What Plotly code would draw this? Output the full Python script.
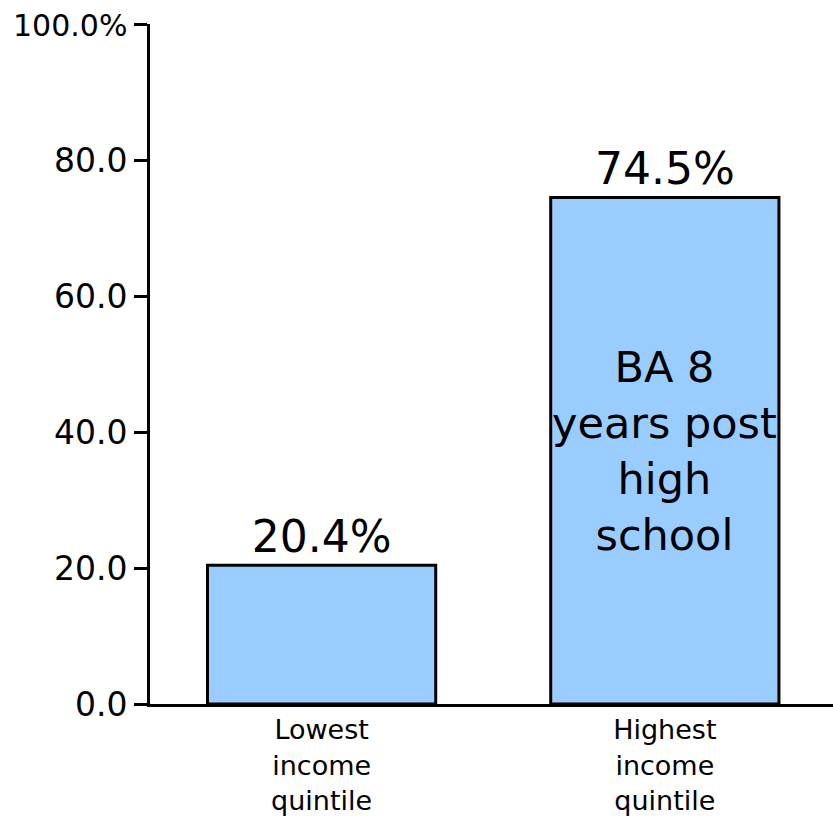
import plotly.graph_objects as go

# Share of students earning a BA within 8 years of high school, by income quintile
categories = ["Lowest<br>income<br>quintile", "Highest<br>income<br>quintile"]
ba_rate = [20.4, 74.5]

y_tick_vals = [0, 20, 40, 60, 80, 100]
y_tick_text = ["0.0", "20.0", "40.0", "60.0", "80.0",
               "<span style='font-size:30px'>100.0%</span>"]

bar_note = "BA 8<br>years post<br>high<br>school"

FONT = "DejaVu Sans, Verdana, sans-serif"

fig = go.Figure(
    go.Bar(
        x=categories,
        y=ba_rate,
        width=0.665,
        marker=dict(color="#99CCFF", line=dict(color="black", width=3)),
        texttemplate="%{y:.1f}%",
        textposition="outside",
        constraintext="none",
        cliponaxis=False,
        outsidetextfont=dict(family=FONT, size=44, color="black"),
        hoverinfo="skip",
    )
)

fig.add_annotation(
    x=categories[1], y=ba_rate[1] / 2,
    text=bar_note, showarrow=False,
    font=dict(family=FONT, size=43, color="black"),
    align="center",
)

fig.update_layout(
    width=833, height=818,
    margin=dict(l=150, r=0, t=24, b=114),
    paper_bgcolor="white", plot_bgcolor="white",
    showlegend=False,
    font=dict(family=FONT, color="black"),
)

fig.update_xaxes(
    range=[-0.5, 1.49],
    showline=True, linecolor="black", linewidth=3,
    ticks="", showgrid=False, zeroline=False,
    tickfont=dict(family=FONT, size=27, color="black"),
)

fig.update_yaxes(
    range=[0, 100],
    tickvals=y_tick_vals, ticktext=y_tick_text,
    showline=True, linecolor="black", linewidth=3,
    ticks="outside", ticklen=13, tickwidth=3, tickcolor="black",
    showgrid=False, zeroline=False,
    tickfont=dict(family=FONT, size=33, color="black"),
)

fig.write_html("out.html")
